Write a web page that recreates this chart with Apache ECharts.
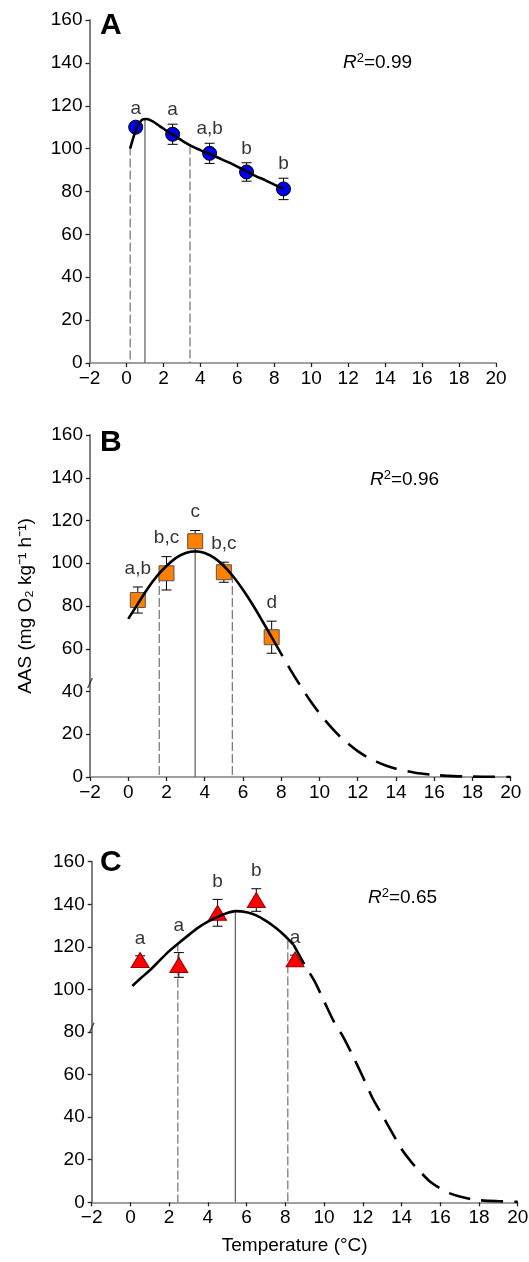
<!DOCTYPE html>
<html>
<head>
<meta charset="utf-8">
<script src="https://cdn.jsdelivr.net/npm/echarts@6/dist/echarts.min.js"></script>
<style>
  html, body { margin: 0; padding: 0; background: #fff; }
  #chart { width: 529px; height: 1262px; }
</style>
</head>
<body>
<div id="chart"></div>
<script>
// ---- data ----
// panel A (circles)
const tempA = [0.5, 2.5, 4.5, 6.5, 8.5];
const aasA = [110, 106.7, 97.8, 89.1, 81.2];
const errA = [2, 4.7, 4.7, 4.3, 5];
const lettersA = ['a', 'a', 'a,b', 'b', 'b'];
const fitA = [[0.2, 100], [0.35, 104.5], [0.5, 108.5], [0.7, 112], [0.9, 113.7], [1.1, 113.8],
    [1.4, 112.8], [1.8, 110.5], [2.1, 108.7], [2.5, 106.5], [3.0, 103.8], [3.5, 101.3],
    [4.0, 99.3], [4.5, 97.5], [5.0, 95.6], [5.5, 93.7], [6.0, 91.6], [6.5, 89.4],
    [7.0, 87.2], [7.5, 85.3], [8.0, 83.2], [8.5, 81.3]];
const fitTailA = [];
const optA = [[1.0, 113.8]];
const rangeA = [[0.2, 101], [3.44, 101.5]];
const r2A = '0.99';

// panel B (squares)
const tempB = [0.5, 2, 3.5, 5, 7.5];
const aasB = [82.8, 95.3, 110.3, 95.8, 65.4];
const errB = [6.1, 7.8, 5, 4.7, 7.5];
const lettersB = ['a,b', 'b,c', 'c', 'b,c', 'd'];
const fitB = [[0, 74], [0.5, 81], [1, 88], [1.5, 94], [2, 98.7], [2.5, 102.5], [3, 104.8],
    [3.5, 105.6], [4, 104.8], [4.5, 102.5], [5, 98.7], [5.5, 93.7], [6, 87.6], [6.5, 80.7],
    [7, 73.2], [7.5, 65.4]];
const fitTailB = [[7.5, 65.4], [8, 57.6], [8.5, 49.9], [9, 42.7], [9.5, 35.9], [10, 29.8],
    [10.5, 24.4], [11, 19.6], [11.5, 15.6], [12, 12.1], [12.5, 9.3], [13, 7.1], [13.5, 5.3],
    [14, 3.9], [15, 2.0], [16, 1.0], [17, 0.4], [18, 0.2], [19, 0.1], [20, 0]];
const optB = [[3.5, 105.6]];
const rangeB = [[1.62, 95], [5.44, 95]];
const r2B = '0.96';

// panel C (triangles)
const tempC = [0.5, 2.5, 4.5, 6.5, 8.5];
const aasC = [113.8, 111.5, 136, 142, 114.1];
const errC = [2, 5.8, 6.3, 5.3, 2];
const lettersC = ['a', 'a', 'b', 'b', 'a'];
const fitC = [[0.1, 101.6], [0.5, 105], [1, 109], [1.5, 113.5], [2, 118], [2.5, 121.8],
    [3, 125.5], [3.5, 129], [4, 131.8], [4.5, 134.1], [5, 135.9], [5.42, 136.8], [6, 136.3],
    [6.5, 134.8], [7, 132.2], [7.5, 129], [8, 125], [8.42, 121]];
const fitTailC = [[8.42, 121], [9, 111.5], [9.5, 104], [10, 94.5], [10.5, 85], [11, 77.5],
    [11.5, 68.5], [12, 59], [12.5, 49], [13, 41], [13.5, 33], [14, 25], [14.5, 19], [15, 14],
    [15.5, 9.5], [16, 6.5], [16.5, 4.2], [17, 2.7], [17.5, 1.7], [18, 1], [19, 0.5], [20, 0.2]];
const optC = [[5.42, 136.8]];
const rangeC = [[2.45, 122], [8.13, 123]];
const r2C = '0.65';

// axis-break marks on the y axis
const breakB = [[-2, 44]];
const breakC = [[-2, 82]];

const xTicks = {min: -2, max: 20, interval: 2};
const yTicks = {min: 0, max: 160, interval: 20};

const FONT = "'Liberation Sans', Arial, sans-serif";

const panels = [
    {t: tempA, v: aasA, e: errA, l: lettersA, fit: fitA, tail: fitTailA, opt: optA, rng: rangeA, brk: [],
        symbol: 'circle', size: 14, fill: '#0000f0', edge: '#000', labelGap: 5,
        grid: {left: 89.5, top: 20, width: 406.5, height: 343}},
    {t: tempB, v: aasB, e: errB, l: lettersB, fit: fitB, tail: fitTailB, opt: optB, rng: rangeB, brk: breakB,
        symbol: 'rect', size: 15, fill: '#ff8000', edge: '#555', labelGap: 9,
        grid: {left: 90, top: 435, width: 420.7, height: 342}},
    {t: tempC, v: aasC, e: errC, l: lettersC, fit: fitC, tail: fitTailC, opt: optC, rng: rangeC, brk: breakC,
        symbol: 'triangle', size: [18, 15], fill: '#ff0000', edge: '#900', labelGap: 8,
        grid: {left: 91.7, top: 861.7, width: 426, height: 340.6}}
];

function curveAt(curve, x) {
    for (let i = 1; i < curve.length; i++) {
        const [x0, y0] = curve[i - 1];
        const [x1, y1] = curve[i];
        if (x >= x0 && x <= x1) return y0 + (y1 - y0) * (x - x0) / (x1 - x0);
    }
    return -Infinity;
}

function errorBar(params, api) {
    const x = api.value(0);
    const lo = api.coord([x, api.value(1)]);
    const hi = api.coord([x, api.value(2)]);
    const w = 5;
    const style = {stroke: '#000', lineWidth: 1};
    return {type: 'group', children: [
        {type: 'line', shape: {x1: lo[0], y1: lo[1], x2: hi[0], y2: hi[1]}, style},
        {type: 'line', shape: {x1: hi[0] - w, y1: hi[1], x2: hi[0] + w, y2: hi[1]}, style},
        {type: 'line', shape: {x1: lo[0] - w, y1: lo[1], x2: lo[0] + w, y2: lo[1]}, style}
    ]};
}

function dropLine(dash, color, width) {
    return function (params, api) {
        const x = api.value(0);
        const top = api.coord([x, api.value(1)]);
        const bot = api.coord([x, 0]);
        return {type: 'line', shape: {x1: top[0], y1: top[1], x2: bot[0], y2: bot[1]},
            style: {stroke: color, lineWidth: width, lineDash: dash}};
    };
}

const minus = v => String(v).replace('-', '\u2212');

const grids = [], xAxes = [], yAxes = [], series = [];
panels.forEach((p, i) => {
    grids.push(Object.assign({outerBoundsMode: 'none', containLabel: false}, p.grid));
    xAxes.push(Object.assign({
        type: 'value', gridIndex: i,
        axisLine: {onZero: false, lineStyle: {color: '#808080', width: 1.5}},
        axisTick: {length: 4, lineStyle: {color: '#222', width: 1.3}},
        axisLabel: {color: '#000', fontSize: 19, fontFamily: FONT, margin: 6, formatter: minus},
        splitLine: {show: false},
        name: i === 2 ? 'Temperature (\u00b0C)' : '',
        nameLocation: 'middle', nameGap: 34,
        nameTextStyle: {color: '#000', fontSize: 19, fontFamily: FONT, padding: [0, 20, 0, 0]}
    }, xTicks));
    yAxes.push(Object.assign({
        type: 'value', gridIndex: i,
        axisLine: {show: true, onZero: false, lineStyle: {color: '#808080', width: 2}},
        axisTick: {show: true, length: 4, lineStyle: {color: '#222', width: 1.3}},
        axisLabel: {color: '#000', fontSize: 19, fontFamily: FONT, margin: 7},
        splitLine: {show: false},
        name: i === 1 ? 'AAS (mg O\u2082 kg\u207b\u00b9 h\u207b\u00b9)' : '',
        nameLocation: 'middle', nameGap: 55, nameRotate: 90,
        nameTextStyle: {color: '#000', fontSize: 19, fontFamily: FONT}
    }, yTicks));

    const ax = {xAxisIndex: i, yAxisIndex: i};
    series.push(Object.assign({
        type: 'custom', renderItem: dropLine([9, 3], '#555', 1), data: p.rng, z: 1, silent: true
    }, ax));
    series.push(Object.assign({
        type: 'custom', renderItem: dropLine(null, '#666', 1.3), data: p.opt, z: 1, silent: true
    }, ax));
    series.push(Object.assign({
        type: 'custom', renderItem: errorBar, z: 2, silent: true,
        data: p.t.map((x, k) => [x, p.v[k] - p.e[k], p.v[k] + p.e[k]])
    }, ax));
    series.push(Object.assign({
        type: 'scatter', symbol: p.symbol, symbolSize: p.size, z: 3, silent: true,
        itemStyle: {color: p.fill, borderColor: p.edge, borderWidth: 1, opacity: 1},
        data: p.t.map((x, k) => [x, p.v[k]])
    }, ax));
    series.push(Object.assign({
        type: 'line', data: p.fit, smooth: 0.3, showSymbol: false, z: 4, silent: true,
        lineStyle: {color: '#000', width: 2.6}
    }, ax));
    if (p.tail.length) {
        series.push(Object.assign({
            type: 'line', data: p.tail, smooth: 0.3, showSymbol: false, z: 4, silent: true,
            lineStyle: {color: '#000', width: 2.6, type: [22, 11]}
        }, ax));
    }
    series.push(Object.assign({
        type: 'scatter', symbolSize: 0, z: 5, silent: true,
        data: p.t.map((x, k) => [x, Math.max(p.v[k] + p.e[k], curveAt(p.fit, x)), p.l[k]]),
        label: {show: true, position: 'top', distance: p.labelGap, color: '#000',
            fontSize: 19, fontFamily: FONT, formatter: d => d.data[2]}
    }, ax));
    if (p.brk.length) {
        series.push(Object.assign({
            type: 'scatter', data: p.brk, clip: false, z: 6, silent: true,
            symbol: 'path://M0,10 L4.5,0 L6,0 L1.5,10 Z', symbolSize: [6, 10],
            itemStyle: {color: '#222'}
        }, ax));
    }
});

const r2Rich = {
    r: {fontStyle: 'italic', fontSize: 19, fontFamily: FONT, color: '#000'},
    s: {fontSize: 13, fontFamily: FONT, color: '#000', padding: [0, 0, 9, 0]},
    n: {fontSize: 19, fontFamily: FONT, color: '#000'}
};
const r2Text = v => '{r|R}{s|2}{n|=' + v + '}';

const graphic = [
    {type: 'text', left: 100, top: 11, style: {text: 'A', fill: '#000', font: 'bold 30px ' + FONT}},
    {type: 'text', left: 100, top: 428, style: {text: 'B', fill: '#000', font: 'bold 30px ' + FONT}},
    {type: 'text', left: 100, top: 848, style: {text: 'C', fill: '#000', font: 'bold 30px ' + FONT}},
    {type: 'text', left: 343, top: 52, style: {text: r2Text(r2A), rich: r2Rich}},
    {type: 'text', left: 370, top: 469, style: {text: r2Text(r2B), rich: r2Rich}},
    {type: 'text', left: 368, top: 887, style: {text: r2Text(r2C), rich: r2Rich}}
];

const chart = echarts.init(document.getElementById('chart'), null, {renderer: 'canvas'});
chart.setOption({
    animation: false,
    backgroundColor: '#fff',
    grid: grids,
    xAxis: xAxes,
    yAxis: yAxes,
    series: series,
    graphic: graphic
});
</script>
</body>
</html>
